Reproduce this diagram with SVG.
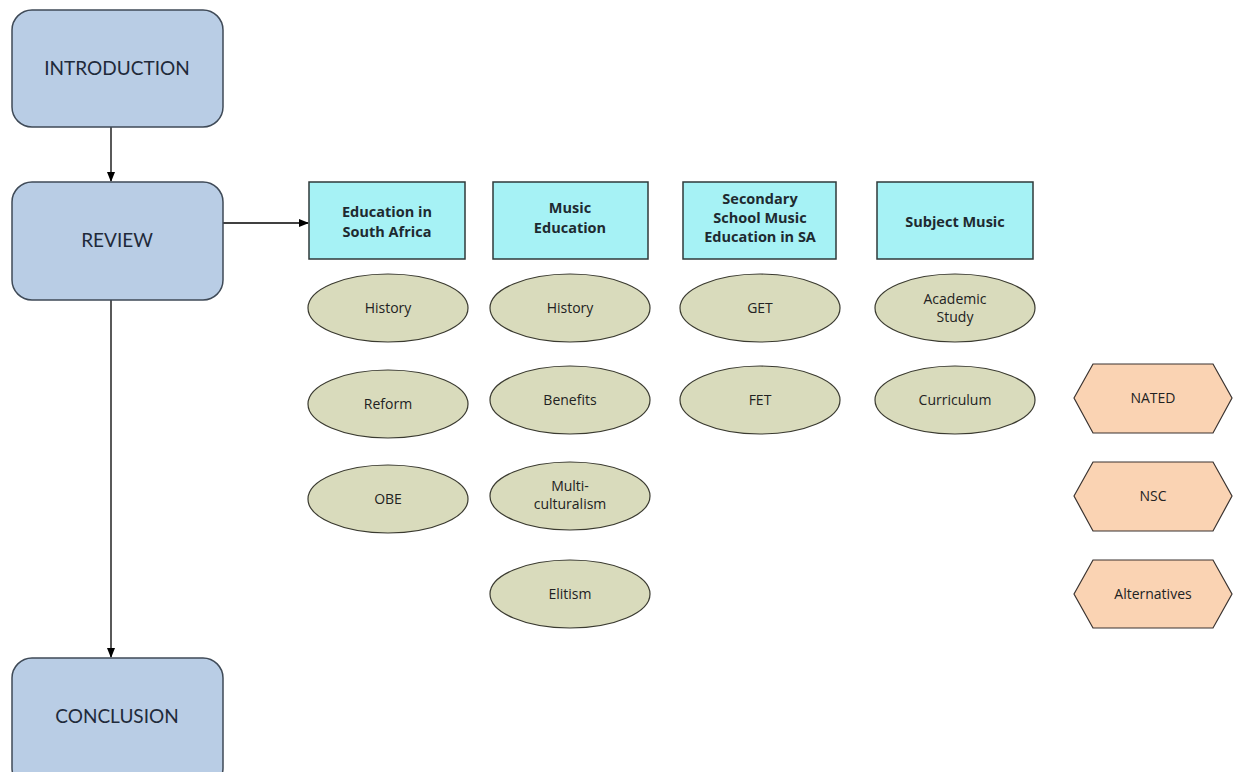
<svg xmlns="http://www.w3.org/2000/svg" width="1234" height="772" viewBox="0 0 1234 772">
<defs>
<marker id="ah" markerWidth="10" markerHeight="8" refX="9" refY="4" orient="auto" markerUnits="userSpaceOnUse">
<path d="M0,0 L10,4 L0,8 z" fill="#000"/>
</marker>
<style>
.main{fill:#B9CDE5;stroke:#3F4A57;stroke-width:1.5}
.mt{font-family:Lato,"Open Sans",sans-serif;font-size:19px;fill:#1F2A3A;text-anchor:middle}
.hd{fill:#A6F2F5;stroke:#2F3A3A;stroke-width:1.5}
.ht{font-family:"Open Sans","Noto Sans",sans-serif;font-size:14.5px;font-weight:bold;fill:#1E2A30;text-anchor:middle}
.el{fill:#D9DBBC;stroke:#3A3A30;stroke-width:1.2}
.et{font-family:"Open Sans","Noto Sans",sans-serif;font-size:14px;fill:#222;text-anchor:middle}
.hx{fill:#FAD3B3;stroke:#3A3330;stroke-width:1.2}
.cn{stroke:#000;stroke-width:1.3;fill:none;marker-end:url(#ah)}
</style>
</defs>
<rect width="1234" height="772" fill="#fff"/>
<g id="connectors">
<line class="cn" x1="111" y1="127" x2="111" y2="181"/>
<line class="cn" x1="111" y1="300" x2="111" y2="657"/>
<line class="cn" x1="223" y1="223" x2="308" y2="223"/>
</g>
<g id="introduction"><rect class="main" x="12" y="10" width="211" height="117" rx="20"/><text class="mt" x="117" y="75">INTRODUCTION</text></g>
<g id="review"><rect class="main" x="12" y="182" width="211" height="118" rx="20"/><text class="mt" x="117" y="247">REVIEW</text></g>
<g id="conclusion"><rect class="main" x="12" y="658" width="211" height="130" rx="20"/><text class="mt" x="117" y="723">CONCLUSION</text></g>

<g id="h-edu"><rect class="hd" x="309" y="182" width="156" height="77"/><text class="ht" x="387" y="217">Education in</text><text class="ht" x="387" y="237">South Africa</text></g>
<g id="h-music"><rect class="hd" x="493" y="182" width="155" height="77"/><text class="ht" x="570" y="213">Music</text><text class="ht" x="570" y="233">Education</text></g>
<g id="h-sec"><rect class="hd" x="683" y="182" width="153" height="77"/><text class="ht" x="760" y="204">Secondary</text><text class="ht" x="760" y="223">School Music</text><text class="ht" x="760" y="242">Education in SA</text></g>
<g id="h-subj"><rect class="hd" x="877" y="182" width="156" height="77"/><text class="ht" x="955" y="227">Subject Music</text></g>

<g id="e-edu-history"><ellipse class="el" cx="388" cy="308" rx="80" ry="34"/><text class="et" x="388" y="313">History</text></g>
<g id="e-edu-reform"><ellipse class="el" cx="388" cy="404" rx="80" ry="34"/><text class="et" x="388" y="409">Reform</text></g>
<g id="e-edu-obe"><ellipse class="el" cx="388" cy="499" rx="80" ry="34"/><text class="et" x="388" y="504">OBE</text></g>

<g id="e-mus-history"><ellipse class="el" cx="570" cy="308" rx="80" ry="34"/><text class="et" x="570" y="313">History</text></g>
<g id="e-mus-benefits"><ellipse class="el" cx="570" cy="400" rx="80" ry="34"/><text class="et" x="570" y="405">Benefits</text></g>
<g id="e-mus-multi"><ellipse class="el" cx="570" cy="496" rx="80" ry="34"/><text class="et" x="570" y="491">Multi-</text><text class="et" x="570" y="509">culturalism</text></g>
<g id="e-mus-elitism"><ellipse class="el" cx="570" cy="594" rx="80" ry="34"/><text class="et" x="570" y="599">Elitism</text></g>

<g id="e-get"><ellipse class="el" cx="760" cy="308" rx="80" ry="34"/><text class="et" x="760" y="313">GET</text></g>
<g id="e-fet"><ellipse class="el" cx="760" cy="400" rx="80" ry="34"/><text class="et" x="760" y="405">FET</text></g>

<g id="e-academic"><ellipse class="el" cx="955" cy="308" rx="80" ry="34"/><text class="et" x="955" y="304">Academic</text><text class="et" x="955" y="322">Study</text></g>
<g id="e-curriculum"><ellipse class="el" cx="955" cy="400" rx="80" ry="34"/><text class="et" x="955" y="405">Curriculum</text></g>

<g id="x-nated"><polygon class="hx" points="1074,398 1093,364 1213,364 1232,398 1213,433 1093,433"/><text class="et" x="1153" y="403">NATED</text></g>
<g id="x-nsc"><polygon class="hx" points="1074,496 1093,462 1213,462 1232,496 1213,531 1093,531"/><text class="et" x="1153" y="501">NSC</text></g>
<g id="x-alt"><polygon class="hx" points="1074,594 1093,560 1213,560 1232,594 1213,628 1093,628"/><text class="et" x="1153" y="599">Alternatives</text></g>
</svg>
